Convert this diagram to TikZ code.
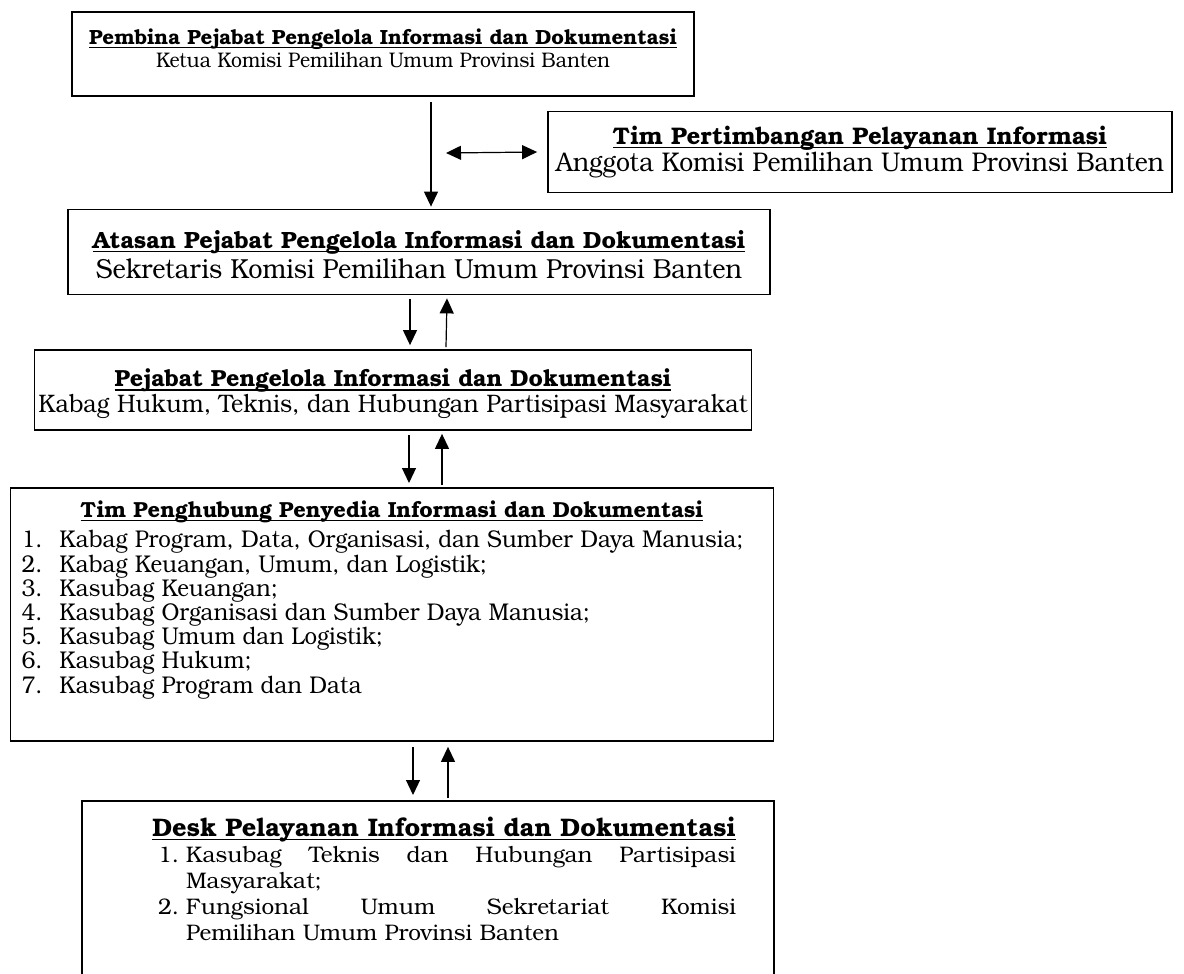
\documentclass[tikz,border=0pt]{standalone}
\usepackage{fontspec}
\setmainfont{TeX Gyre Bonum}
\newfontfamily\sempit{TeX Gyre Bonum}[FakeStretch=0.92]
\usetikzlibrary{positioning,arrows.meta}

\newsavebox{\kotakjudul}
\newcommand{\judul}[1]{{\bfseries\sbox{\kotakjudul}{#1}%
  \rlap{\rule[-3.6pt]{\wd\kotakjudul}{1.2pt}}\usebox{\kotakjudul}}}
\newcommand{\ukuran}[2]{\fontsize{#1}{#2}\selectfont}
\newcommand{\butir}[3]{\par\noindent\hangindent=#1\hangafter=1\makebox[#1][l]{#2.}#3}

\begin{document}
\begin{tikzpicture}[x=1pt,y=-1pt,
    orgbox/.style={draw, line width=1.8pt, align=center, inner sep=0pt},
    alur/.style={line width=1.2pt, -{Triangle[length=15pt,width=14pt]}},
    duaarah/.style={line width=1.2pt, {Triangle[length=15pt,width=14pt]}-{Triangle[length=15pt,width=14pt]}}]
\useasboundingbox (0,0) rectangle (1184,974);

% kotak-kotak
\node[orgbox, minimum width=622pt, minimum height=84pt,
      font=\ukuran{20.5}{23}] (pembina) at (383,54)
    {\judul{Pembina Pejabat Pengelola Informasi dan Dokumentasi}\\
     {\sempit\ukuran{21.1}{23}Ketua Komisi Pemilihan Umum Provinsi Banten\rule[-12pt]{0pt}{12pt}}};
\node[orgbox, minimum width=624pt, minimum height=81pt,
      font=\ukuran{24}{27}] (pertimbangan) at (860,152)
    {\judul{Tim Pertimbangan Pelayanan Informasi}\\
     {\sempit\ukuran{27}{27}Anggota Komisi Pemilihan Umum Provinsi Banten}};
\node[orgbox, minimum width=702pt, minimum height=85pt,
      font=\ukuran{23.5}{30}] (atasan) at (419,252)
    {\rule{0pt}{24pt}\judul{Atasan Pejabat Pengelola Informasi dan Dokumentasi}\\
     {\sempit\ukuran{27.5}{30}Sekretaris Komisi Pemilihan Umum Provinsi Banten}};
\node[orgbox, minimum width=717pt, minimum height=80pt,
      font=\ukuran{23.3}{26}] (ppid) at (393,390)
    {\rule{0pt}{26pt}\judul{Pejabat Pengelola Informasi dan Dokumentasi}\\
     {\sempit\ukuran{25.3}{26}Kabag Hukum, Teknis, dan Hubungan Partisipasi Masyarakat}};
\node[orgbox, anchor=north, minimum width=763pt, text width=741pt,
      align=left, inner ysep=13pt, font=\ukuran{21.8}{24.2}] (penghubung) at (392,487)
    {\lineskiplimit=-20pt
     {\centering\judul{Tim Penghubung Penyedia Informasi dan Dokumentasi}\par}
     \vspace{6pt}\sempit\ukuran{24.2}{24.2}
     \butir{38pt}{1}{Kabag Program, Data, Organisasi, dan Sumber Daya Manusia;}
     \butir{38pt}{2}{Kabag Keuangan, Umum, dan Logistik;}
     \butir{38pt}{3}{Kasubag Keuangan;}
     \butir{38pt}{4}{Kasubag Organisasi dan Sumber Daya Manusia;}
     \butir{38pt}{5}{Kasubag Umum dan Logistik;}
     \butir{38pt}{6}{Kasubag Hukum;}
     \butir{38pt}{7}{Kasubag Program dan Data\rule[-35pt]{0pt}{35pt}}\par};
\node[orgbox, anchor=north, minimum width=692pt, text width=616pt,
      align=justify, inner ysep=16pt,
      font=\ukuran{25.4}{26}] (desk) at (428,800)
    {\lineskiplimit=-20pt
     {\centering\leftskip=32pt plus 1fil\judul{Desk Pelayanan Informasi dan Dokumentasi}\par}
     \ukuran{22.5}{26}\leftskip=38pt
     \butir{28pt}{1}{Kasubag Teknis dan Hubungan Partisipasi\linebreak Masyarakat;}
     \butir{28pt}{2}{Fungsional Umum Sekretariat Komisi\linebreak Pemilihan Umum Provinsi Banten\rule[-60pt]{0pt}{60pt}}\par};

% panah
\coordinate (kiri) at (446,153);
\draw[alur] ([xshift=48pt,yshift=-5pt]pembina.south) -- ([xshift=12pt,yshift=2pt]atasan.north);
\draw[duaarah] (kiri) -- ([xshift=-10pt]pertimbangan.west);
\draw[alur] ([xshift=-9pt,yshift=-4pt]atasan.south) -- ([xshift=17pt,yshift=4pt]ppid.north);
\draw[alur] ([xshift=53pt,yshift=2pt]ppid.north) -- ([xshift=28pt,yshift=-3pt]atasan.south);
\draw[alur] ([xshift=16pt,yshift=-4pt]ppid.south) -- ([xshift=17pt,yshift=4pt]penghubung.north);
\draw[alur] ([xshift=50pt,yshift=2pt]penghubung.north) -- ([xshift=49pt,yshift=-3pt]ppid.south);
\draw[alur] ([xshift=21pt,yshift=-5pt]penghubung.south) -- ([xshift=-15pt,yshift=5pt]desk.north);
\draw[alur] ([xshift=20pt,yshift=2pt]desk.north) -- ([xshift=56pt,yshift=-5pt]penghubung.south);
\end{tikzpicture}
\end{document}
